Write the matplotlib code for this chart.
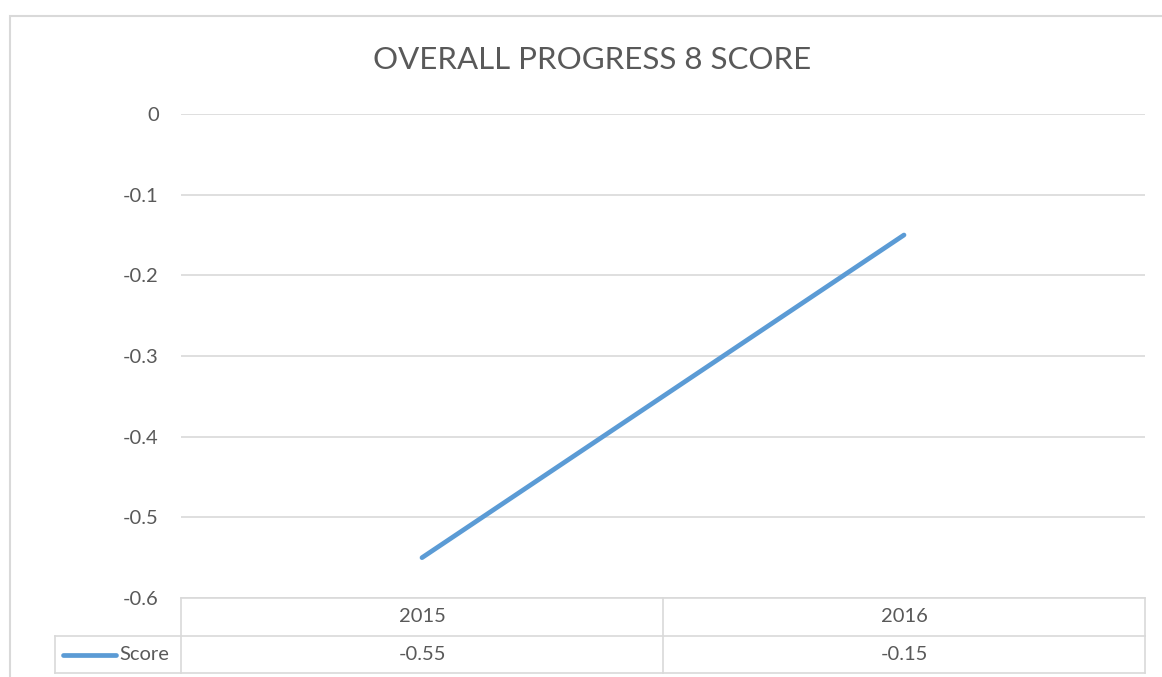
import matplotlib
matplotlib.use("Agg")
import matplotlib.pyplot as plt
from matplotlib.patches import Rectangle
from matplotlib.lines import Line2D

years = ["2015", "2016"]
scores = [-0.55, -0.15]
series_name = "Score"
title = "OVERALL PROGRESS 8 SCORE"
yticks = [0, -0.1, -0.2, -0.3, -0.4, -0.5, -0.6]

W, H = 1162, 677
fig = plt.figure(figsize=(W / 100, H / 100), dpi=100)
plt.rcParams['font.family'] = ['Lato', 'DejaVu Sans']
txt = '#595959'
grid = '#d9d9d9'
blue = '#5B9BD5'
fs = 14.5

def fx(px):
    return px / W
def fy(py):
    return 1 - py / H

# chart border
fig.patches.append(Rectangle((fx(10), fy(700)), fx(1200) - fx(10), fy(16) - fy(700),
                             transform=fig.transFigure, fill=False, edgecolor=grid, lw=1.5))

L, R, T, B = 181, 1145, 114, 598
ax = fig.add_axes([fx(L), fy(B), fx(R) - fx(L), fy(T) - fy(B)])
ax.set_xlim(0, len(years))
ax.set_ylim(-0.6, 0)
ax.set_yticks(yticks)
ax.set_yticklabels([("%g" % v) if v != 0 else "0" for v in yticks], color=txt, fontsize=fs)
ax.tick_params(axis='y', length=0, pad=16)
ax.set_xticks([])
for s in ax.spines.values():
    s.set_visible(False)
ax.grid(axis='y', color=grid, lw=1.2)
ax.set_axisbelow(True)
xs = [i + 0.5 for i in range(len(years))]
ax.plot(xs, scores, color=blue, lw=3.4, solid_capstyle='round')

fig.text(fx(592), fy(60), title, ha='center', va='center', fontsize=22.5, color=txt)

# data table
row1, row2, bot = 598, 636, 673
tl = 55
lk = dict(color=grid, lw=1.2, transform=fig.transFigure)
col_edges = [L + (R - L) * i / len(years) for i in range(len(years) + 1)]
fig.lines.append(Line2D([fx(L), fx(R)], [fy(row1), fy(row1)], **lk))
fig.lines.append(Line2D([fx(tl), fx(R)], [fy(row2), fy(row2)], **lk))
fig.lines.append(Line2D([fx(tl), fx(R)], [fy(bot), fy(bot)], **lk))
fig.lines.append(Line2D([fx(tl), fx(tl)], [fy(row2), fy(bot)], **lk))
for e in col_edges:
    fig.lines.append(Line2D([fx(e), fx(e)], [fy(row1), fy(bot)], **lk))
for i, (y, s) in enumerate(zip(years, scores)):
    cx = 0.5 * (col_edges[i] + col_edges[i + 1])
    fig.text(fx(cx), fy((row1 + row2) / 2), y, ha='center', va='center', fontsize=fs, color=txt)
    fig.text(fx(cx), fy((row2 + bot) / 2), "%g" % s, ha='center', va='center', fontsize=fs, color=txt)
fig.lines.append(Line2D([fx(63), fx(116)], [fy(655), fy(655)], color=blue, lw=3.4,
                        solid_capstyle='round', transform=fig.transFigure))
fig.text(fx(119), fy(655), series_name, ha='left', va='center', fontsize=fs, color=txt)

fig.savefig("out.png", dpi=100)
